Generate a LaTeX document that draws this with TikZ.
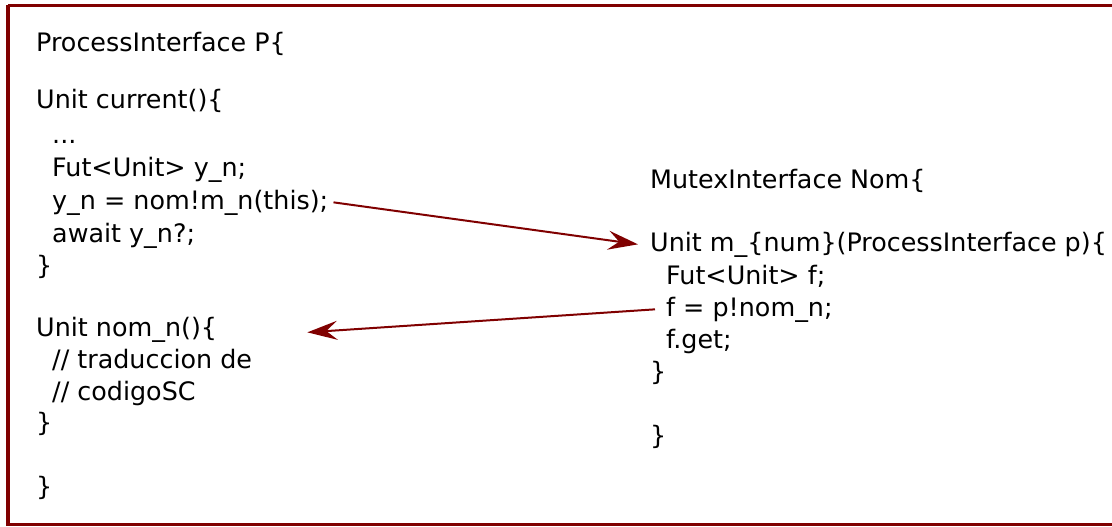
\documentclass[tikz,border=0pt]{standalone}
\usepackage{fontspec}
\setmainfont{DejaVu Sans}
\usetikzlibrary{arrows.meta}
\definecolor{maroonx}{HTML}{800000}
\begin{document}
\begin{tikzpicture}[x=1pt,y=-1pt,
  code/.style={inner sep=0pt, anchor=base west, font=\fontsize{25.4}{30}\selectfont},
  arr/.style={draw=maroonx, line width=2pt, -{Stealth[length=30pt,width=19pt,inset=11pt,fill=maroonx]}},
  frame/.style={draw=maroonx, line width=3.5pt}]
\useasboundingbox (0,0) rectangle (1112,527);
\draw[frame] (8,5.5) -- (1120,5.5) (8,5.5) -- (8,524.5) -- (1120,524.5);
% left block
\node[code] (l1) at (36,52) {ProcessInterface P\{};
\node[code] (l2) at (36,109) {Unit current()\{};
\node[code] (l3) at (52,143) {...};
\node[code] (l4) at (52,176) {Fut<Unit> y\_n;};
\node[code] (l5) at (52,209) {y\_n = nom!m\_n(this);};
\node[code] (l6) at (52,242) {await y\_n?;};
\node[code] (l7) at (36,274) {\}};
\node[code] (l8) at (36,336) {Unit nom\_n()\{};
\node[code] (l9) at (52,368) {// traduccion de};
\node[code] (l10) at (52,400) {// codigoSC};
\node[code] (l11) at (36,431) {\}};
\node[code] (l12) at (36,495) {\}};
% right block
\node[code] (r1) at (650,188) {MutexInterface Nom\{};
\node[code] (r2) at (650,251) {Unit m\_\{num\}(ProcessInterface p)\{};
\node[code] (r3) at (666,284) {Fut<Unit> f;};
\node[code] (r4) at (666,316) {f = p!nom\_n;};
\node[code] (r5) at (666,348) {f.get;};
\node[code] (r6) at (650,380) {\}};
\node[code] (r7) at (650,444) {\}};
% arrows
\draw[arr] ([xshift=5pt]l5.east) -- ([xshift=-12pt]r2.west);
\draw[arr] ([xshift=-11pt]r4.west) -- ([xshift=90pt,yshift=-3pt]l8.east);
\end{tikzpicture}
\end{document}
